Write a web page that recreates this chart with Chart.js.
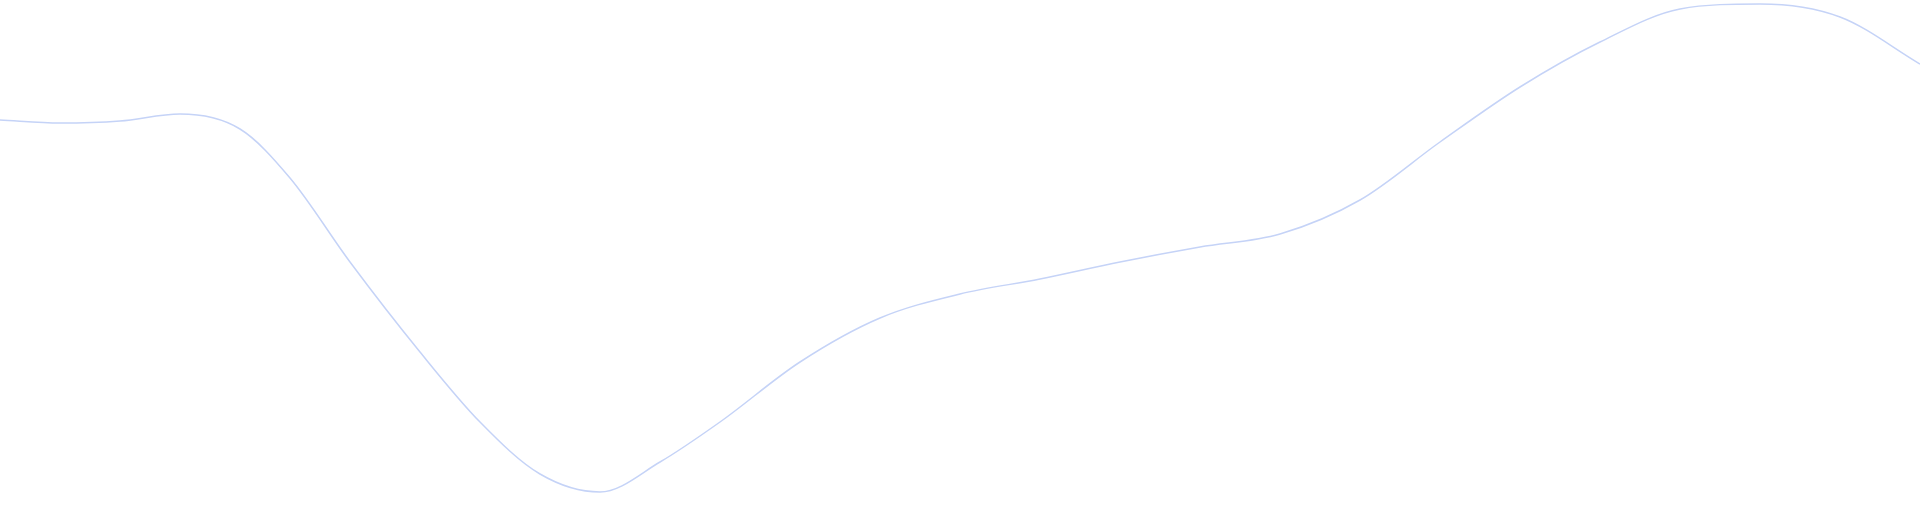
<!DOCTYPE html>
<html><head><meta charset="utf-8">
<script src="https://cdn.jsdelivr.net/npm/chart.js@4"></script>
<style>html,body{margin:0;padding:0;background:#fff}#w{width:1920px;height:512px}</style>
</head><body><div id="w"><canvas id="c"></canvas></div>
<script>
const xs = [0, 60, 120, 180, 240, 290, 350, 420, 480, 540, 600, 660, 720, 800, 880, 960, 1040, 1120, 1200, 1280, 1360, 1440, 1520, 1600, 1680, 1760, 1840, 1920];
const ys = [392, 389, 391, 398, 383, 334, 250, 160, 90, 38, 20, 50, 90, 150, 194, 218, 233, 250, 265, 278, 312, 370, 425, 470, 503, 508, 495, 448];
const pts = xs.map((x,i)=>({x:x,y:ys[i]}));
new Chart(document.getElementById('c'), {
  type:'scatter',
  data:{datasets:[{data:pts,showLine:true,cubicInterpolationMode:'monotone',borderColor:'#c5d3f7',borderWidth:1.5,pointRadius:0,fill:false}]},
  options:{responsive:true,maintainAspectRatio:false,animation:false,
    layout:{padding:0},
    plugins:{legend:{display:false},tooltip:{enabled:false}},
    scales:{x:{type:'linear',min:0,max:1920,display:false},y:{min:0,max:512,display:false}}}
});
</script></body></html>
